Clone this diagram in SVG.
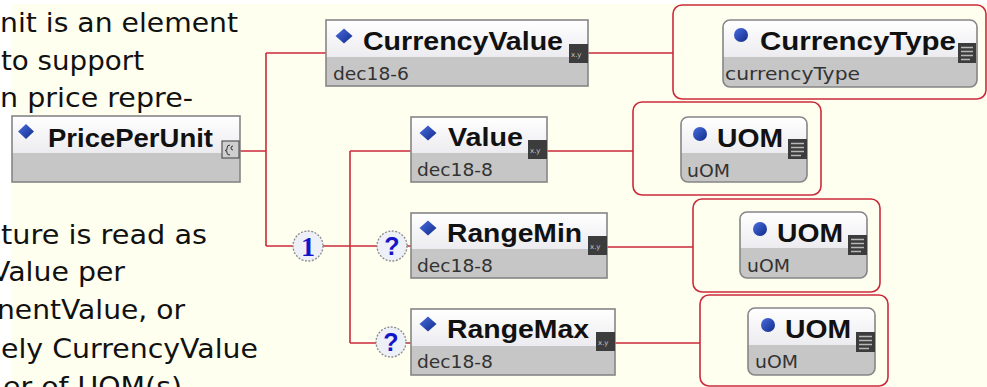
<svg xmlns="http://www.w3.org/2000/svg" width="987" height="387" viewBox="0 0 987 387">
<defs>
<linearGradient id="topg" x1="0" y1="0" x2="0" y2="1">
<stop offset="0" stop-color="#ffffff"/>
<stop offset="1" stop-color="#ececf0"/>
</linearGradient>
<linearGradient id="blueg" x1="0" y1="0" x2="1" y2="1">
<stop offset="0" stop-color="#4a6ee0"/>
<stop offset="1" stop-color="#102a88"/>
</linearGradient>
</defs>
<style>
.para{font-family:"DejaVu Sans",Verdana,sans-serif;font-size:27px;fill:#111}
.title{font-family:"Liberation Sans",Arial,sans-serif;font-weight:bold;font-size:25px;fill:#111}
.sub{font-family:"DejaVu Sans",Verdana,sans-serif;font-size:17px;fill:#333}
.frame{fill:none;stroke:#858585;stroke-width:1.6}
.top{fill:url(#topg)}
.bot{fill:#c6c6c6}
.icon{fill:#3c3c3c}
.iconline{stroke:#b8b8b8;stroke-width:1.5}
.xy{font-family:"DejaVu Sans",sans-serif;font-size:7px;fill:#c8c8c8}
.wire{fill:none;stroke:#cc2a3a;stroke-width:1.6}
.box{fill:none;stroke:#cc2a3a;stroke-width:1.6}
.badge{fill:#eef0f8;stroke:#8a8a8a;stroke-width:1.3;stroke-dasharray:2 1.5}
.one{font-family:"Liberation Serif","Times New Roman",serif;font-weight:bold;font-size:28px;fill:#1414c8}
.q{font-family:"Liberation Sans",Arial,sans-serif;font-weight:bold;font-size:25px;fill:#1414c8}
</style>
<rect x="0" y="0" width="987" height="387" fill="#ffffff"/>
<rect x="11" y="4" width="976" height="383" fill="#fffff0"/>

<g id="paragraph">
<text class="para" x="0" y="32" textLength="238" lengthAdjust="spacingAndGlyphs">nit is an element</text>
<text class="para" x="1" y="70" textLength="143" lengthAdjust="spacingAndGlyphs">to support</text>
<text class="para" x="0" y="107" textLength="193" lengthAdjust="spacingAndGlyphs">n price repre-</text>
<text class="para" x="1" y="244" textLength="206" lengthAdjust="spacingAndGlyphs">ture is read as</text>
<text class="para" x="-9" y="281" textLength="134" lengthAdjust="spacingAndGlyphs">Value per</text>
<text class="para" x="-3" y="319" textLength="188" lengthAdjust="spacingAndGlyphs">nentValue, or</text>
<text class="para" x="1" y="358" textLength="257" lengthAdjust="spacingAndGlyphs">ely CurrencyValue</text>
<text class="para" x="3" y="396" textLength="179" lengthAdjust="spacingAndGlyphs">er of UOM(s)</text>
</g>

<g id="connectors">
<path class="wire" d="M238 151 H266 M266 53 V246 M266 53 H326 M266 246 H293 M323 246 H350 M350 151 V343 M350 151 H411 M350 246 H377 M407 246 H411 M350 343 H376 M406 343 H411"/>
<path class="wire" d="M588 53 H673 M547 151 H633 M607 247 H693 M615 343 H700"/>
</g>

<g id="PricePerUnit">
<rect class="top" x="12" y="116" width="228" height="37"/>
<rect class="bot" x="12" y="153" width="228" height="29"/>
<rect class="frame" x="12" y="116" width="228" height="66"/>
<path d="M26 124 L34 131.5 L26 139 L18 131.5 Z" fill="url(#blueg)"/>
<text class="title" x="48" y="147" textLength="165" lengthAdjust="spacingAndGlyphs">PricePerUnit</text>
<rect x="222" y="141" width="17" height="17" fill="#cfcfcf" stroke="#555" stroke-width="1.2"/>
<path d="M230 145 Q227 145 227 148 V149 Q227 150.5 225 150.5 Q227 150.5 227 152 V153 Q227 155 230 155 M233 146 Q231 146 231 148 Q231 150 233 150" fill="none" stroke="#333" stroke-width="1"/>
</g>

<g id="CurrencyValue">
<rect class="top" x="326" y="20" width="262" height="37"/>
<rect class="bot" x="326" y="57" width="262" height="29"/>
<rect class="frame" x="326" y="20" width="262" height="66"/>
<path d="M344 28.5 L352.5 36 L344 43.5 L335.5 36 Z" fill="url(#blueg)"/>
<text class="title" x="363" y="50" textLength="200" lengthAdjust="spacingAndGlyphs">CurrencyValue</text>
<text class="sub" x="333" y="80" textLength="76" lengthAdjust="spacingAndGlyphs">dec18-6</text>
<rect class="icon" x="569" y="44" width="19" height="19"/>
<text class="xy" x="571" y="57">x.y</text>
</g>

<g id="CurrencyType">
<rect class="box" x="673" y="5" width="313" height="94" rx="9"/>
<path d="M723 57 V27 Q723 20 730 20 H970 Q977 20 977 27 V57 Z" class="top"/>
<path d="M723 57 H977 V80 Q977 87 970 87 H730 Q723 87 723 80 Z" class="bot"/>
<rect class="frame" x="723" y="20" width="254" height="67" rx="7"/>
<circle cx="741" cy="35" r="7" fill="url(#blueg)"/>
<text class="title" x="760" y="50" textLength="196" lengthAdjust="spacingAndGlyphs">CurrencyType</text>
<text class="sub" x="725" y="80" textLength="135" lengthAdjust="spacingAndGlyphs">currencyType</text>
<rect class="icon" x="958" y="43" width="18" height="20"/>
<path class="iconline" d="M961 47.5 H973 M961 51.5 H973 M961 55.5 H973 M961 59.5 H970"/>
</g>

<g id="Value">
<rect class="top" x="411" y="117" width="136" height="36"/>
<rect class="bot" x="411" y="153" width="136" height="29"/>
<rect class="frame" x="411" y="117" width="136" height="65"/>
<path d="M428 125.5 L436.5 133 L428 140.5 L419.5 133 Z" fill="url(#blueg)"/>
<text class="title" x="448" y="146" textLength="75" lengthAdjust="spacingAndGlyphs">Value</text>
<text class="sub" x="417" y="176" textLength="76" lengthAdjust="spacingAndGlyphs">dec18-8</text>
<rect class="icon" x="528" y="140" width="19" height="19"/>
<text class="xy" x="530" y="153">x.y</text>
</g>

<g id="UOM1">
<rect class="box" x="633" y="102" width="188" height="93" rx="9"/>
<path d="M681 153 V124 Q681 117 688 117 H800 Q807 117 807 124 V153 Z" class="top"/>
<path d="M681 153 H807 V175 Q807 182 800 182 H688 Q681 182 681 175 Z" class="bot"/>
<rect class="frame" x="681" y="117" width="126" height="65" rx="7"/>
<circle cx="700" cy="134" r="7" fill="url(#blueg)"/>
<text class="title" x="717" y="147" textLength="66" lengthAdjust="spacingAndGlyphs">UOM</text>
<text class="sub" x="687" y="177" textLength="43" lengthAdjust="spacingAndGlyphs">uOM</text>
<rect class="icon" x="788" y="139" width="19" height="20"/>
<path class="iconline" d="M791 143.5 H804 M791 147.5 H804 M791 151.5 H804 M791 155.5 H801"/>
</g>

<g id="RangeMin">
<circle class="badge" cx="392" cy="246" r="15"/>
<text class="q" x="392" y="255" text-anchor="middle">?</text>
<rect class="top" x="411" y="213" width="196" height="36"/>
<rect class="bot" x="411" y="249" width="196" height="29"/>
<rect class="frame" x="411" y="213" width="196" height="65"/>
<path d="M428 220.5 L436.5 228 L428 235.5 L419.5 228 Z" fill="url(#blueg)"/>
<text class="title" x="447" y="242" textLength="135" lengthAdjust="spacingAndGlyphs">RangeMin</text>
<text class="sub" x="417" y="272" textLength="76" lengthAdjust="spacingAndGlyphs">dec18-8</text>
<rect class="icon" x="588" y="236" width="19" height="19"/>
<text class="xy" x="590" y="249">x.y</text>
</g>

<g id="UOM2">
<rect class="box" x="693" y="199" width="187" height="93" rx="9"/>
<path d="M740 248 V219 Q740 212 747 212 H860 Q867 212 867 219 V248 Z" class="top"/>
<path d="M740 248 H867 V271 Q867 278 860 278 H747 Q740 278 740 271 Z" class="bot"/>
<rect class="frame" x="740" y="212" width="127" height="66" rx="7"/>
<circle cx="760" cy="229" r="7" fill="url(#blueg)"/>
<text class="title" x="777" y="242" textLength="66" lengthAdjust="spacingAndGlyphs">UOM</text>
<text class="sub" x="747" y="272" textLength="43" lengthAdjust="spacingAndGlyphs">uOM</text>
<rect class="icon" x="848" y="235" width="19" height="20"/>
<path class="iconline" d="M851 239.5 H864 M851 243.5 H864 M851 247.5 H864 M851 251.5 H861"/>
</g>

<g id="RangeMax">
<circle class="badge" cx="391" cy="342" r="15"/>
<text class="q" x="391" y="351" text-anchor="middle">?</text>
<rect class="top" x="411" y="309" width="204" height="37"/>
<rect class="bot" x="411" y="346" width="204" height="29"/>
<rect class="frame" x="411" y="309" width="204" height="66"/>
<path d="M428 316.5 L436.5 324 L428 331.5 L419.5 324 Z" fill="url(#blueg)"/>
<text class="title" x="447" y="338" textLength="142" lengthAdjust="spacingAndGlyphs">RangeMax</text>
<text class="sub" x="417" y="368" textLength="76" lengthAdjust="spacingAndGlyphs">dec18-8</text>
<rect class="icon" x="596" y="332" width="19" height="19"/>
<text class="xy" x="598" y="345">x.y</text>
</g>

<g id="UOM3">
<rect class="box" x="700" y="295" width="188" height="91" rx="9"/>
<path d="M748 345 V315 Q748 308 755 308 H868 Q875 308 875 315 V345 Z" class="top"/>
<path d="M748 345 H875 V368 Q875 375 868 375 H755 Q748 375 748 368 Z" class="bot"/>
<rect class="frame" x="748" y="308" width="127" height="67" rx="7"/>
<circle cx="768" cy="325" r="7" fill="url(#blueg)"/>
<text class="title" x="785" y="338" textLength="66" lengthAdjust="spacingAndGlyphs">UOM</text>
<text class="sub" x="755" y="368" textLength="43" lengthAdjust="spacingAndGlyphs">uOM</text>
<rect class="icon" x="856" y="332" width="19" height="20"/>
<path class="iconline" d="M859 336.5 H872 M859 340.5 H872 M859 344.5 H872 M859 348.5 H869"/>
</g>

<g id="choice">
<circle class="badge" cx="308" cy="246" r="15"/>
<text class="one" x="308" y="256" text-anchor="middle">1</text>
</g>
</svg>
